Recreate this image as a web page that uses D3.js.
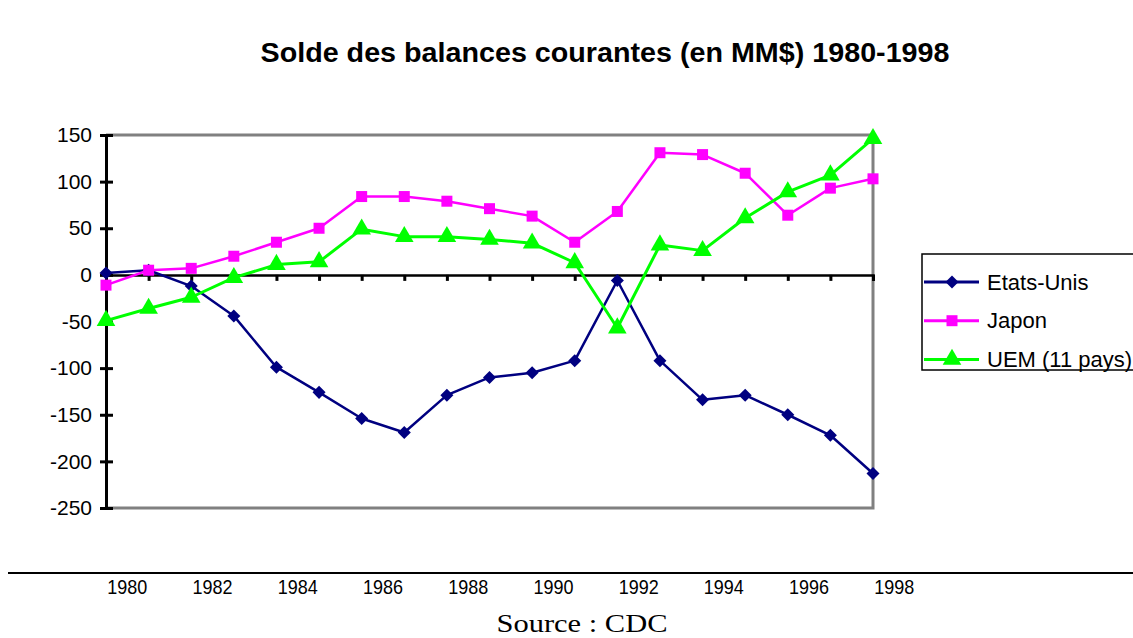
<!DOCTYPE html>
<html>
<head>
<meta charset="utf-8">
<script src="https://cdn.jsdelivr.net/npm/d3@7"></script>
<style>
  body { margin: 0; background: #fff; }
  svg { display: block; font-family: Arial, "Liberation Sans", sans-serif; }
</style>
</head>
<body>
<svg width="1133" height="638"></svg>
<script>
'use strict';
// data
const years = d3.range(1980, 1999);
const etatsUnis = [2, 5, -12, -44, -99, -126, -154, -169, -129, -110, -105, -92, -6, -92, -134, -129, -150, -172, -213];
const japon = [-11, 5, 7, 20, 35, 50, 84, 84, 79, 71, 63, 35, 68, 131, 129, 109, 64, 93, 103];
const uem = [-49, -36, -24, -3, 11, 14, 49, 41, 41, 38, 34, 13, -57, 32, 26, 61, 89, 107, 146];
const yTicks = [150, 100, 50, 0, -50, -100, -150, -200, -250];
const yearLabels = [1980, 1982, 1984, 1986, 1988, 1990, 1992, 1994, 1996, 1998];

const series = [
  { name: 'Etats-Unis', values: etatsUnis, color: '#000080', width: 2.5, symbol: 'diamond' },
  { name: 'Japon', values: japon, color: '#ff00ff', width: 2.5, symbol: 'square' },
  { name: 'UEM (11 pays)', values: uem, color: '#00ff00', width: 3, symbol: 'triangle' }
];

const svg = d3.select('svg');
const plotL = 106, plotR = 873, plotT = 135, plotB = 508;

const x = d3.scalePoint().domain(years).range([plotL, plotR]);
const y = d3.scaleLinear().domain([-250, 150]).range([plotB, plotT]);
const step = x.step();

// title
svg.append('text')
  .attr('x', 605).attr('y', 62)
  .attr('text-anchor', 'middle')
  .attr('font-size', 28).attr('font-weight', 'bold')
  .attr('textLength', 689).attr('lengthAdjust', 'spacingAndGlyphs')
  .text('Solde des balances courantes (en MM$) 1980-1998');

// plot frame (gray top / right / bottom)
svg.append('path')
  .attr('d', `M${plotL},${plotT}H${plotR}V${plotB}H${plotL}`)
  .attr('fill', 'none').attr('stroke', '#808080').attr('stroke-width', 3);

// y axis
const yAxis = svg.append('g')
  .attr('transform', `translate(${plotL},0)`)
  .call(d3.axisLeft(y).tickValues(yTicks).tickSize(0).tickPadding(14).tickFormat(d => String(d)));
yAxis.select('.domain').attr('stroke', '#000').attr('stroke-width', 3);
yAxis.selectAll('.tick line').attr('x1', -6).attr('x2', 7).attr('stroke', '#000').attr('stroke-width', 3);
yAxis.selectAll('.tick text').attr('font-size', 21).attr('fill', '#000').attr('font-family', 'Arial, "Liberation Sans", sans-serif');

// zero line with category ticks
const xAxis = svg.append('g')
  .attr('transform', `translate(0,${y(0)})`)
  .call(d3.axisBottom(x).tickValues(years.slice(1)).tickSize(6).tickFormat(''));
xAxis.select('.domain').attr('stroke', '#000').attr('stroke-width', 2.5);
xAxis.selectAll('.tick line').attr('stroke', '#000').attr('stroke-width', 3);

// year labels, shifted half a category
svg.append('g').selectAll('text')
  .data(yearLabels)
  .join('text')
  .attr('x', d => x(d) + step / 2)
  .attr('y', 594)
  .attr('text-anchor', 'middle')
  .attr('font-size', 21)
  .attr('textLength', 40).attr('lengthAdjust', 'spacingAndGlyphs')
  .text(d => d);

// lines and markers
const line = d3.line().x((d, i) => x(years[i])).y(d => y(d));
const symbols = { diamond: d3.symbolSquare, square: d3.symbolSquare, triangle: d3.symbolTriangle };
const sizes = { diamond: 85, square: 121, triangle: 150 };
const rot = { diamond: 45, square: 0, triangle: 0 };

series.forEach(s => {
  svg.append('path')
    .attr('d', line(s.values))
    .attr('fill', 'none')
    .attr('stroke', s.color)
    .attr('stroke-width', s.width)
    .attr('stroke-linejoin', 'round');
  svg.append('g').selectAll('path')
    .data(s.values)
    .join('path')
    .attr('transform', (d, i) => `translate(${x(years[i])},${y(d)}) rotate(${rot[s.symbol]})`)
    .attr('d', d3.symbol(symbols[s.symbol], sizes[s.symbol]))
    .attr('fill', s.color);
});

// legend
const legend = svg.append('g');
legend.append('rect')
  .attr('x', 922).attr('y', 254)
  .attr('width', 230).attr('height', 116)
  .attr('fill', '#fff').attr('stroke', '#000').attr('stroke-width', 1.5);
series.forEach((s, i) => {
  const ly = 282 + i * 38.7;
  legend.append('line')
    .attr('x1', 924).attr('x2', 979).attr('y1', ly).attr('y2', ly)
    .attr('stroke', s.color).attr('stroke-width', 3);
  legend.append('path')
    .attr('transform', `translate(952,${ly}) rotate(${rot[s.symbol]})`)
    .attr('d', d3.symbol(symbols[s.symbol], sizes[s.symbol]))
    .attr('fill', s.color);
  legend.append('text')
    .attr('x', 987).attr('y', ly + 7.5)
    .attr('font-size', 22)
    .text(s.name);
});

// separator and source
svg.append('line')
  .attr('x1', 8).attr('x2', 1133).attr('y1', 573).attr('y2', 573)
  .attr('stroke', '#000').attr('stroke-width', 2);
svg.append('text')
  .attr('x', 582).attr('y', 632)
  .attr('text-anchor', 'middle')
  .attr('font-family', '"Liberation Serif", "Times New Roman", serif')
  .attr('font-size', 26)
  .attr('textLength', 171).attr('lengthAdjust', 'spacingAndGlyphs')
  .text('Source : CDC');
</script>
</body>
</html>
